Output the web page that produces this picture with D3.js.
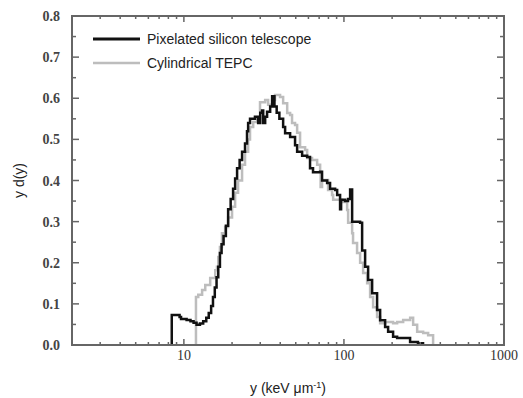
<!DOCTYPE html>
<html>
<head>
<meta charset="utf-8">
<script src="https://cdnjs.cloudflare.com/ajax/libs/d3/7.8.5/d3.min.js"></script>
<style>
  body { margin: 0; background: #fff; }
  svg { display: block; }
</style>
</head>
<body>
<div id="chart"></div>
<script>
// Lineal energy spectra, y d(y) vs y (keV/um)
const siliconX = [8.4, 8.4, 9.4, 9.6, 10.4, 11.0, 11.5, 12.0, 12.6, 13.2, 13.8, 14.3, 14.8, 15.2, 15.6, 16.0, 16.4, 16.8, 17.2, 17.7, 18.3, 18.9, 19.6, 20.3, 20.9, 21.5, 22.3, 23.1, 24.1, 24.8, 25.2, 25.9, 27.8, 29.1, 30.0, 30.8, 31.3, 32.2, 33.1, 34.6, 35.6, 36.8, 38.0, 39.5, 41.7, 42.9, 46.1, 49.5, 51.0, 54.8, 58.9, 61.4, 64.1, 71.0, 73.0, 78.5, 81.9, 88.1, 90.7, 94.6, 96.0, 101.6, 106.0, 109.3, 112.5, 126.2, 129.9, 135.6, 141.6, 150.0, 161.1, 168.3, 180.8, 188.8, 202.8, 214.9, 241.0, 259.0, 290.0, 312.0];
const siliconY = [0, 0.073, 0.068, 0.063, 0.061, 0.058, 0.054, 0.049, 0.052, 0.058, 0.066, 0.078, 0.095, 0.117, 0.14, 0.165, 0.19, 0.224, 0.245, 0.265, 0.29, 0.33, 0.355, 0.38, 0.405, 0.43, 0.45, 0.47, 0.49, 0.52, 0.54, 0.55, 0.555, 0.54, 0.565, 0.57, 0.54, 0.555, 0.567, 0.58, 0.605, 0.58, 0.565, 0.55, 0.53, 0.515, 0.506, 0.486, 0.47, 0.46, 0.457, 0.43, 0.42, 0.421, 0.40, 0.394, 0.38, 0.377, 0.365, 0.33, 0.353, 0.35, 0.355, 0.378, 0.30, 0.297, 0.23, 0.19, 0.158, 0.126, 0.085, 0.06, 0.044, 0.032, 0.02, 0.017, 0.017, 0.007, 0.004, 0];

const tepcX = [11.9, 11.9, 12.3, 13.0, 13.6, 14.6, 15.7, 16.1, 16.4, 16.8, 17.3, 18.1, 18.9, 20.0, 20.9, 21.8, 23.1, 24.1, 25.2, 25.9, 27.1, 28.7, 29.9, 32.2, 33.6, 35.6, 37.1, 39.9, 41.7, 44.2, 46.1, 47.4, 49.5, 51.0, 53.2, 57.2, 58.9, 63.2, 68.0, 71.0, 71.5, 73.0, 78.5, 79.6, 84.3, 85.6, 97.4, 101.6, 104.7, 106.2, 112.5, 114.0, 120.8, 126.2, 131.8, 139.6, 145.7, 152.1, 161.1, 168.3, 180.8, 202.8, 214.9, 234.4, 259.2, 270.6, 286.7, 312.6, 335.7, 360.6];
const tepcY = [0, 0.117, 0.122, 0.134, 0.146, 0.163, 0.182, 0.19, 0.214, 0.238, 0.272, 0.287, 0.31, 0.336, 0.37, 0.40, 0.438, 0.47, 0.50, 0.53, 0.542, 0.552, 0.59, 0.596, 0.584, 0.596, 0.608, 0.603, 0.588, 0.564, 0.559, 0.54, 0.535, 0.516, 0.481, 0.474, 0.455, 0.45, 0.438, 0.421, 0.384, 0.401, 0.401, 0.377, 0.365, 0.353, 0.348, 0.348, 0.328, 0.297, 0.272, 0.248, 0.224, 0.20, 0.175, 0.15, 0.117, 0.092, 0.068, 0.053, 0.056, 0.053, 0.056, 0.061, 0.066, 0.049, 0.032, 0.029, 0.024, 0];

const seriesNames = ["Pixelated silicon telescope", "Cylindrical TEPC"];
const yTicks = [0.0, 0.1, 0.2, 0.3, 0.4, 0.5, 0.6, 0.7, 0.8];
const xTicks = [10, 100, 1000];

const width = 523, height = 398;
const margin = { top: 16, right: 19, bottom: 53, left: 72 };
const innerW = width - margin.left - margin.right;
const innerH = height - margin.top - margin.bottom;

const svg = d3.select("#chart").append("svg")
    .attr("width", width)
    .attr("height", height);

const g = svg.append("g")
    .attr("transform", `translate(${margin.left},${margin.top})`);

const x = d3.scaleLog().domain([2, 1000]).range([0, innerW]);
const y = d3.scaleLinear().domain([0, 0.8]).range([innerH, 0]);

const axisColor = "#666";

// minor ticks for log axis
const minorX = [];
for (let dec = 1; dec <= 100; dec *= 10) {
    for (let k = 1; k <= 9; k++) {
        const v = k * dec;
        if (v >= 2 && v <= 1000 && !xTicks.includes(v)) minorX.push(v);
    }
}
const minorY = d3.range(0.05, 0.8, 0.1);

// data lines
const line = d3.line()
    .x(d => x(d[0]))
    .y(d => y(d[1]))
    .curve(d3.curveStepAfter);

const tepc = tepcX.map((v, i) => [v, tepcY[i]]);
const silicon = siliconX.map((v, i) => [v, siliconY[i]]);

g.append("path")
    .datum(tepc)
    .attr("fill", "none")
    .attr("stroke", "#bdbdbd")
    .attr("stroke-width", 2.5)
    .attr("d", line);

g.append("path")
    .datum(silicon)
    .attr("fill", "none")
    .attr("stroke", "#111")
    .attr("stroke-width", 2.5)
    .attr("d", line);

// frame
g.append("rect")
    .attr("width", innerW)
    .attr("height", innerH)
    .attr("fill", "none")
    .attr("stroke", axisColor)
    .attr("stroke-width", 2);

// inward ticks on all four sides
const ticks = g.append("g").attr("stroke", axisColor).attr("stroke-width", 1.5);
xTicks.forEach(v => {
    ticks.append("line").attr("x1", x(v)).attr("x2", x(v)).attr("y1", innerH).attr("y2", innerH - 6);
    ticks.append("line").attr("x1", x(v)).attr("x2", x(v)).attr("y1", 0).attr("y2", 6);
});
minorX.forEach(v => {
    ticks.append("line").attr("x1", x(v)).attr("x2", x(v)).attr("y1", innerH).attr("y2", innerH - 3);
    ticks.append("line").attr("x1", x(v)).attr("x2", x(v)).attr("y1", 0).attr("y2", 3);
});
yTicks.forEach(v => {
    ticks.append("line").attr("x1", 0).attr("x2", 7).attr("y1", y(v)).attr("y2", y(v));
    ticks.append("line").attr("x1", innerW).attr("x2", innerW - 7).attr("y1", y(v)).attr("y2", y(v));
});
minorY.forEach(v => {
    ticks.append("line").attr("x1", 0).attr("x2", 4).attr("y1", y(v)).attr("y2", y(v));
    ticks.append("line").attr("x1", innerW).attr("x2", innerW - 4).attr("y1", y(v)).attr("y2", y(v));
});

// tick labels
g.selectAll(".ylab")
    .data(yTicks)
    .enter()
    .append("text")
    .attr("x", -12)
    .attr("y", d => y(d) + 5)
    .attr("text-anchor", "end")
    .style("font-family", "'Liberation Serif', serif")
    .style("font-size", "14px")
    .style("font-weight", "bold")
    .style("fill", "#444")
    .text(d => d.toFixed(1));

g.selectAll(".xlab")
    .data(xTicks)
    .enter()
    .append("text")
    .attr("x", d => x(d))
    .attr("y", innerH + 15)
    .attr("text-anchor", "middle")
    .style("font-family", "'Liberation Serif', serif")
    .style("font-size", "14px")
    .style("fill", "#333")
    .text(d => d);

// axis titles
const xTitle = svg.append("text")
    .attr("x", margin.left + innerW / 2)
    .attr("y", 393)
    .attr("text-anchor", "middle")
    .style("font-family", "'Liberation Sans', Arial, sans-serif")
    .style("font-size", "14px")
    .style("fill", "#222");
xTitle.append("tspan").text("y (keV \u03BCm");
xTitle.append("tspan").attr("dy", -5).style("font-size", "9px").text("-1");
xTitle.append("tspan").attr("dy", 5).text(")");

svg.append("text")
    .attr("transform", `translate(24,${margin.top + innerH / 2}) rotate(-90)`)
    .attr("text-anchor", "middle")
    .style("font-family", "'Liberation Sans', Arial, sans-serif")
    .style("font-size", "14px")
    .style("fill", "#222")
    .text("y d(y)");

// legend
const legend = svg.append("g");
const legendColors = ["#111", "#bdbdbd"];
seriesNames.forEach((name, i) => {
    const ly = 39 + i * 24;
    legend.append("line")
        .attr("x1", 93).attr("x2", 140)
        .attr("y1", ly).attr("y2", ly)
        .attr("stroke", legendColors[i])
        .attr("stroke-width", i === 0 ? 3 : 2.5);
    legend.append("text")
        .attr("x", 147)
        .attr("y", ly + 5)
        .style("font-family", "'Liberation Sans', Arial, sans-serif")
        .style("font-size", "14px")
        .style("fill", "#222")
        .text(name);
});
</script>
</body>
</html>
